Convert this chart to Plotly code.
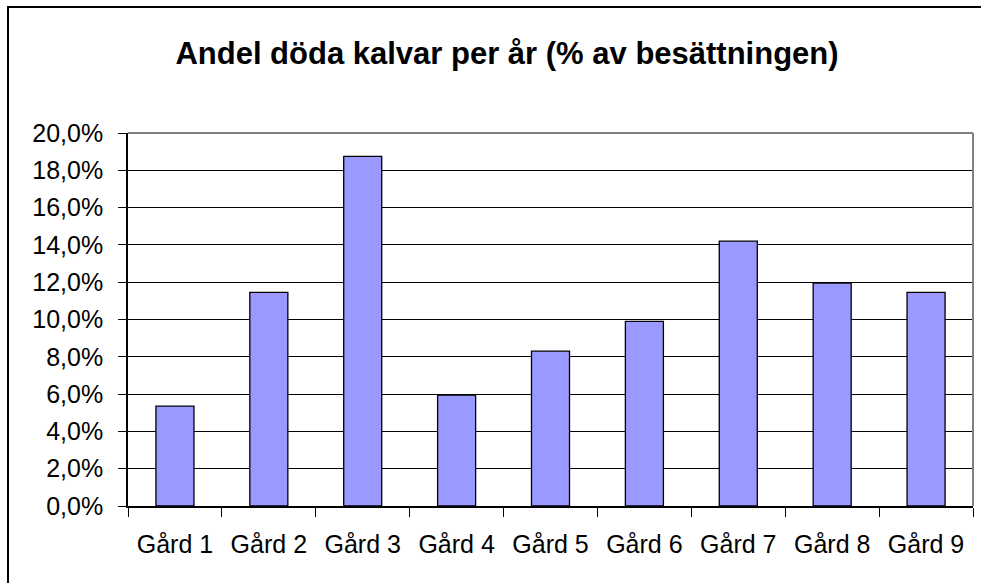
import plotly.graph_objects as go

categories = ["Gård 1", "Gård 2", "Gård 3", "Gård 4", "Gård 5", "Gård 6", "Gård 7", "Gård 8", "Gård 9"]
values = [0.0535, 0.1145, 0.1875, 0.0595, 0.0830, 0.0990, 0.1420, 0.1195, 0.1145]
y_ticks = [0.0, 0.02, 0.04, 0.06, 0.08, 0.10, 0.12, 0.14, 0.16, 0.18, 0.20]
title_text = "Andel döda kalvar per år (% av besättningen)"

W, H = 981, 583
L, R, T, B = 128, 8, 133, 77
pw = W - L - R
ph = H - T - B

fig = go.Figure(go.Bar(
    x=categories, y=values,
    marker=dict(color="#9999FF", line=dict(color="black", width=1.3)),
))

font_family = "Liberation Sans, Arial, sans-serif"

fig.update_layout(
    width=W, height=H,
    margin=dict(l=L, r=R, t=T, b=B, pad=0, autoexpand=False),
    paper_bgcolor="white", plot_bgcolor="white",
    separators=",.",
    bargap=0.595,
    showlegend=False,
    font=dict(family=font_family, size=25, color="black"),
    title=dict(text="<b>" + title_text + "</b>", x=507 / W, xanchor="center",
               y=1 - 53 / H, yanchor="middle", xref="container", yref="container",
               font=dict(family=font_family, size=31, color="black")),
    xaxis=dict(showgrid=False, showline=True, linecolor="black", linewidth=1.7,
               ticks="outside", tickson="boundaries", ticklen=9, tickwidth=1.3,
               tickcolor="black", ticklabelstandoff=15, automargin=False,
               tickfont=dict(size=25)),
    yaxis=dict(range=[0, 0.2], tickvals=y_ticks, tickformat=".1%",
               showgrid=True, gridcolor="black", gridwidth=1.3,
               showline=True, linecolor="black", linewidth=1.7,
               ticks="outside", ticklen=8, tickwidth=1.3, tickcolor="black",
               ticklabelstandoff=10, zeroline=False, automargin=False,
               tickfont=dict(size=25)),
)

# gray plot-area border (top and right)
fig.add_shape(type="line", xref="paper", yref="paper", x0=0, x1=1, y0=1, y1=1,
              line=dict(color="#808080", width=2))
fig.add_shape(type="line", xref="paper", yref="paper", x0=1, x1=1, y0=0, y1=1,
              line=dict(color="#808080", width=2))

# outer chart frame (right and bottom fall outside the image)
fig.add_shape(type="rect", xref="paper", yref="paper",
              x0=(8 - L) / pw, x1=(995 - L) / pw,
              y0=-(600 - (H - B)) / ph, y1=((H - B) - 7) / ph,
              line=dict(color="black", width=2), fillcolor="rgba(0,0,0,0)", layer="above")

fig.write_html("out.html", config={"displayModeBar": False},
               post_script="document.body.style.margin='0';")
